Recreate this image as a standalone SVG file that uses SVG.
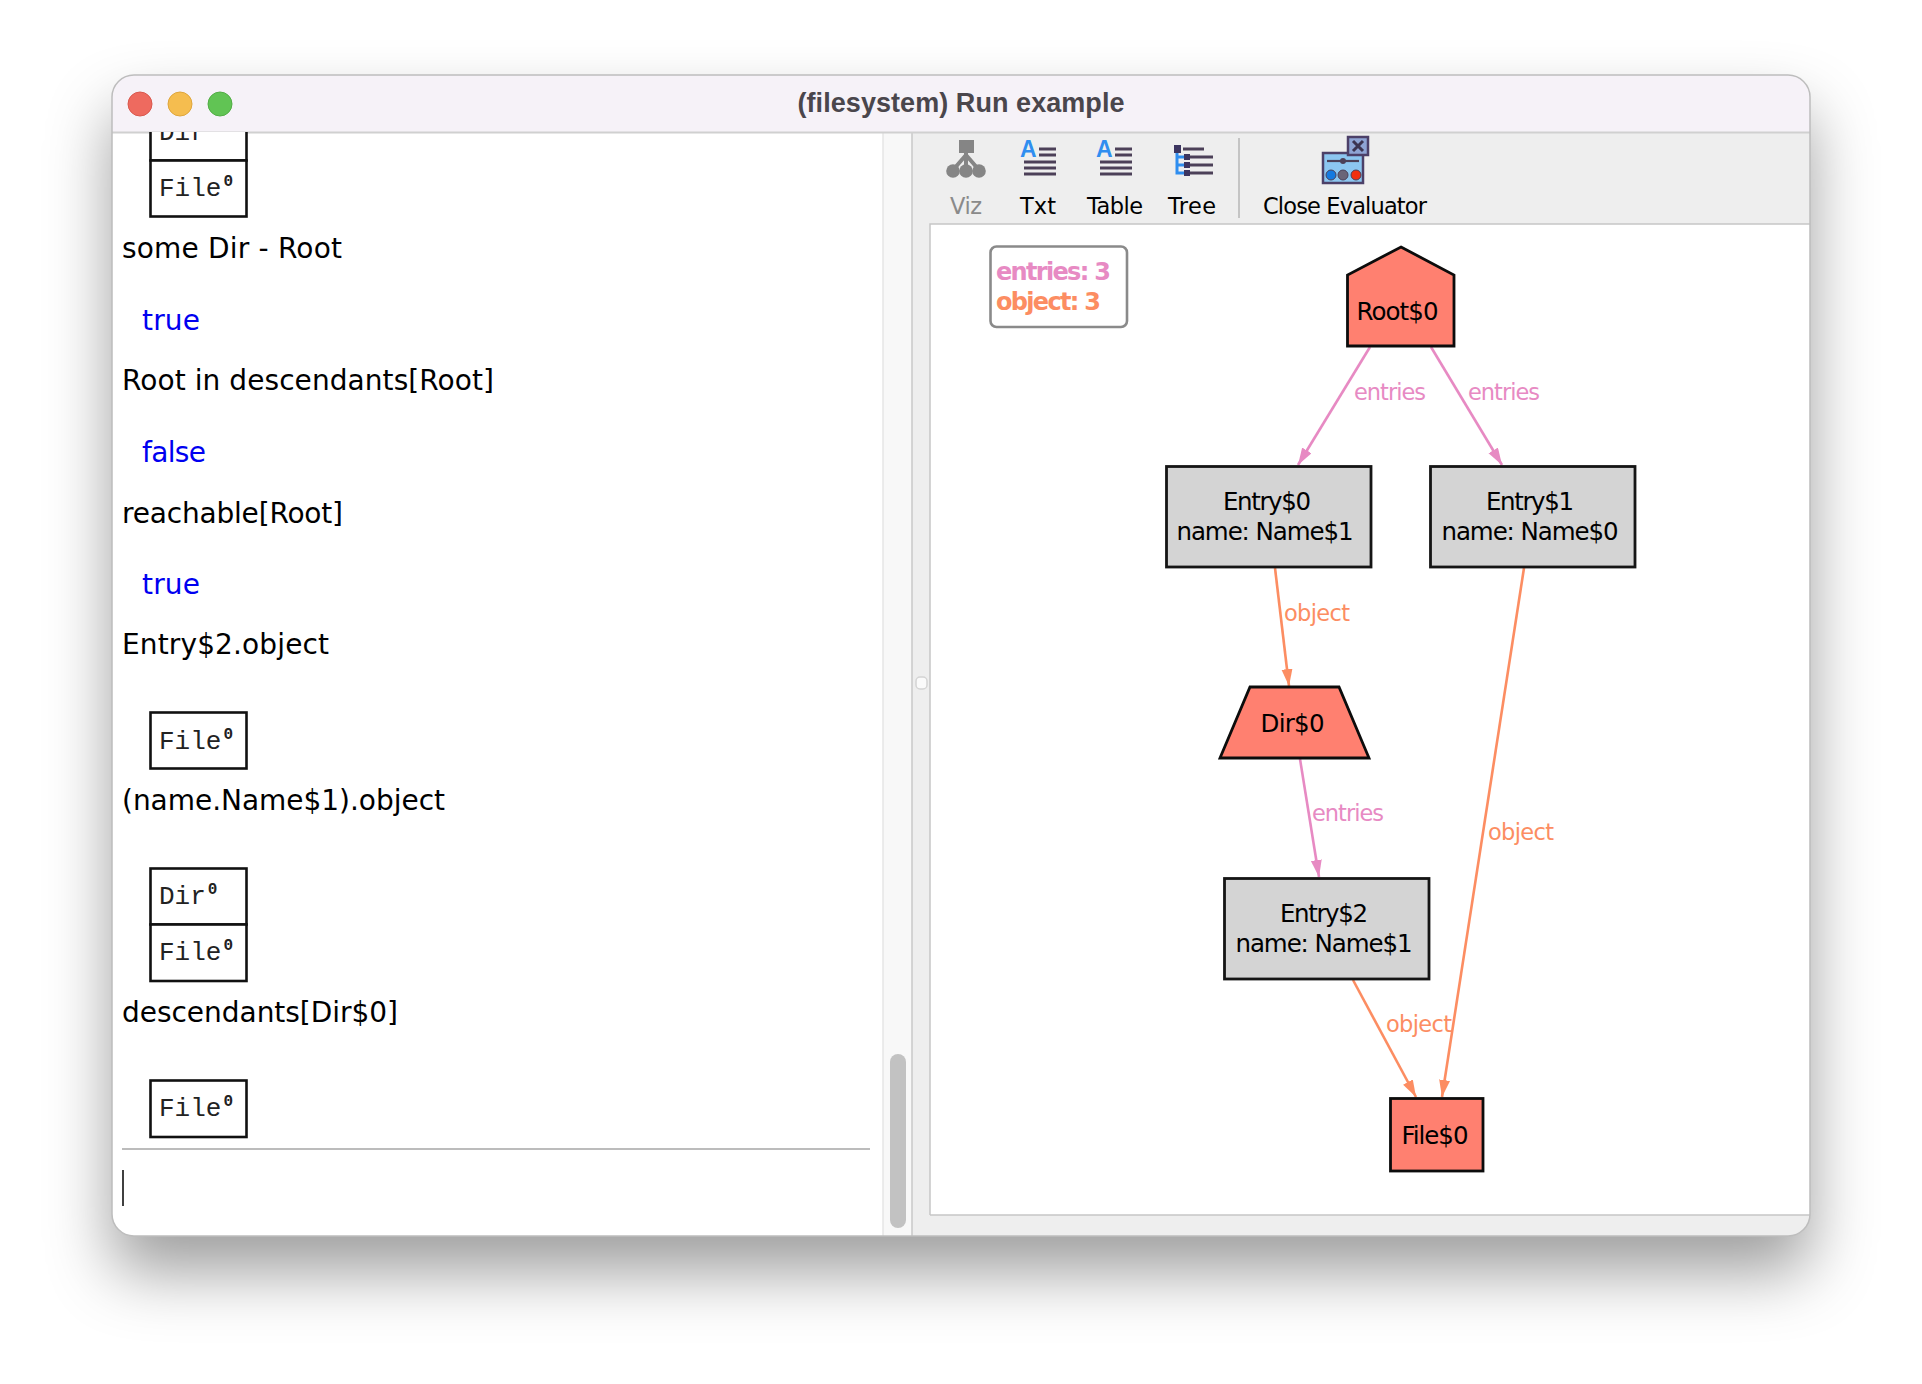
<svg xmlns="http://www.w3.org/2000/svg" width="1922" height="1384" viewBox="0 0 1922 1384">
<style>
text{font-family:"DejaVu Sans","Liberation Sans",sans-serif;fill:#000}
.ev{font-size:28px}
.res{font-size:28px;fill:#0000f0}
.mono{font-family:"Liberation Mono",monospace;font-size:26px;fill:#222}
.sup{font-size:16px;font-weight:bold}
.box{fill:#fff;stroke:#111;stroke-width:2.6}
.tb{font-size:22.5px}
.lbl{font-size:22.5px}
.en{fill:#e78ac3}
.ob{fill:#fc8d62}
.node{font-size:24.5px;text-anchor:middle}
.gray{fill:#d4d4d4;stroke:#151515;stroke-width:2.8}
.sal{fill:#ff8070;stroke:#0c0c0c;stroke-width:2.8}
.le{fill:none;stroke:#e78ac3;stroke-width:2.6}
.lo{fill:none;stroke:#fc8d62;stroke-width:2.6}
.ic{stroke:#4c4058;stroke-width:3;fill:none}
</style>
<defs>
<filter id="sh" x="-15%" y="-15%" width="130%" height="135%"><feDropShadow dx="0" dy="36" stdDeviation="32" flood-color="#000" flood-opacity="0.38"/></filter>
<marker id="ae" markerUnits="userSpaceOnUse" markerWidth="20" markerHeight="13" refX="17" refY="5.5" orient="auto"><path d="M0 0L17 5.5L0 11Z" fill="#e78ac3"/></marker>
<marker id="ao" markerUnits="userSpaceOnUse" markerWidth="20" markerHeight="13" refX="17" refY="5.5" orient="auto"><path d="M0 0L17 5.5L0 11Z" fill="#fc8d62"/></marker>
<clipPath id="win"><rect x="112" y="75" width="1698" height="1161" rx="22"/></clipPath>
<clipPath id="left"><rect x="112" y="132" width="771" height="1104"/></clipPath>
</defs>
<rect width="1922" height="1384" fill="#fff"/>
<rect id="window-shadow" x="112" y="75" width="1698" height="1161" rx="22" fill="#fff" filter="url(#sh)"/>
<g clip-path="url(#win)">
<rect x="112" y="75" width="1698" height="1161" fill="#fff"/>
<rect x="883" y="132" width="29" height="1104" fill="#f8f8f8"/>
<rect x="912" y="132" width="898" height="1104" fill="#eeeeee"/>
<rect x="930" y="224" width="880" height="991" fill="#fff"/>
<path d="M930 1215V224H1810M930 1215H1810" fill="none" stroke="#c6c6c6" stroke-width="1.5"/>
<path d="M883 132V1236" stroke="#e6e6e6" stroke-width="1.5"/>
<path d="M912 132V1236" stroke="#c8c8c8" stroke-width="1.5"/>
<rect x="916" y="677" width="11" height="12" rx="4" fill="#fafafa" stroke="#d4d4d4" stroke-width="1.5"/>
<rect x="890" y="1054" width="16" height="174" rx="8" fill="#c2c2c2"/>
<rect x="112" y="75" width="1698" height="57" fill="#f6f2f8"/>
<path d="M112 132.5H1810" stroke="#d0d0d0" stroke-width="2"/>
</g>
<rect x="112" y="75" width="1698" height="1161" rx="22" fill="none" stroke="#bdbdbd" stroke-width="1.5"/>
<g id="traffic-lights">
<ellipse cx="140" cy="104" rx="12" ry="12" fill="#ee6a5f" stroke="#d9584e"/>
<ellipse cx="180" cy="104" rx="12" ry="12" fill="#f5bd4f" stroke="#dfa63c"/>
<ellipse cx="220" cy="104" rx="12" ry="12" fill="#61c454" stroke="#52ad46"/>
</g>
<text id="title" x="961" y="112" text-anchor="middle" font-weight="bold" style="font-family:'Liberation Sans',sans-serif;font-size:27px;fill:#4a464c" textLength="327">(filesystem) Run example</text>

<g id="evaluator-log" clip-path="url(#left)">
<rect class="box" x="150.5" y="115" width="96" height="45.5"/>
<text class="mono" x="159" y="140">Dir</text>
<rect class="box" x="150.5" y="160.500" width="96" height="56"/>
<text class="mono" x="159" y="196">File<tspan class="sup" dx="2" dy="-10">0</tspan></text>
<text class="ev" x="122" y="258" textLength="220">some Dir - Root</text>
<text class="res" x="142" y="330" textLength="58">true</text>
<text class="ev" x="122" y="390" textLength="372">Root in descendants[Root]</text>
<text class="res" x="142" y="462" textLength="64">false</text>
<text class="ev" x="122" y="523" textLength="221">reachable[Root]</text>
<text class="res" x="142" y="594" textLength="58">true</text>
<text class="ev" x="122" y="654" textLength="207">Entry$2.object</text>
<rect class="box" x="150.5" y="712.500" width="96" height="56"/>
<text class="mono" x="159" y="749">File<tspan class="sup" dx="2" dy="-10">0</tspan></text>
<text class="ev" x="122" y="810" textLength="323">(name.Name$1).object</text>
<rect class="box" x="150.5" y="868.500" width="96" height="56"/>
<text class="mono" x="159" y="904">Dir<tspan class="sup" dx="2" dy="-10">0</tspan></text>
<rect class="box" x="150.5" y="924.500" width="96" height="56.500"/>
<text class="mono" x="159" y="960">File<tspan class="sup" dx="2" dy="-10">0</tspan></text>
<text class="ev" x="122" y="1022" textLength="276">descendants[Dir$0]</text>
<rect class="box" x="150.5" y="1080.500" width="96" height="56.500"/>
<text class="mono" x="159" y="1116">File<tspan class="sup" dx="2" dy="-10">0</tspan></text>
<path d="M122 1149H870" stroke="#bcbcbc" stroke-width="2"/>
<path d="M123 1170V1206" stroke="#000" stroke-width="1.5"/>
</g>

<g id="toolbar">
<g id="btn-viz">
<rect x="959" y="140" width="15" height="13" fill="#858585"/>
<path d="M966 152V170M966 155L953 170M966 155L979 170" stroke="#858585" stroke-width="4" fill="none"/>
<circle cx="953" cy="171" r="6.800" fill="#858585"/><circle cx="966" cy="171" r="6.800" fill="#858585"/><circle cx="979" cy="171" r="6.800" fill="#858585"/>
<text class="tb" x="950" y="214" style="fill:#8a8a8a" textLength="32">Viz</text>
</g>
<g id="btn-txt">
<text x="1020" y="157" font-weight="bold" style="font-size:23px;fill:#2f8ef0;font-family:'Liberation Sans',sans-serif">A</text>
<path class="ic" d="M1039 149H1056M1039 155H1056M1024 162H1056M1024 168H1056M1024 174H1056"/>
<text class="tb" x="1020" y="214" textLength="36">Txt</text>
</g>
<g id="btn-table">
<text x="1096" y="157" font-weight="bold" style="font-size:23px;fill:#2f8ef0;font-family:'Liberation Sans',sans-serif">A</text>
<path class="ic" d="M1115 149H1132M1115 155H1132M1100 162H1132M1100 168H1132M1100 174H1132"/>
<text class="tb" x="1087" y="214" textLength="56">Table</text>
</g>
<g id="btn-tree">
<path d="M1177 150V173H1187M1177 157H1187M1177 165H1187" stroke="#2f8ef0" stroke-width="3" fill="none"/>
<path class="ic" d="M1183 149H1204M1190 157H1213M1190 165H1213M1190 173H1213"/>
<rect x="1174" y="145" width="7" height="8" fill="#3c3560"/><rect x="1184" y="154" width="6" height="6" fill="#3c3560"/><rect x="1184" y="162" width="6" height="6" fill="#3c3560"/><rect x="1184" y="170" width="6" height="6" fill="#3c3560"/>
<text class="tb" x="1168" y="214" textLength="48">Tree</text>
</g>
<path d="M1239 138V218" stroke="#c4c4c4" stroke-width="2"/>
<g id="btn-close">
<rect x="1323" y="153" width="40" height="30" fill="#8cc6f0" stroke="#4c4068" stroke-width="2.500"/>
<path d="M1327 161H1359" stroke="#4c4058" stroke-width="2.200"/>
<circle cx="1343" cy="161" r="3" fill="#4c4058"/>
<circle cx="1331" cy="175" r="5" fill="#1479e0" stroke="#4c4058"/><circle cx="1343" cy="175" r="5" fill="#6a6478" stroke="#4c4058"/><circle cx="1356" cy="175" r="5" fill="#f03010" stroke="#4c4058"/>
<rect x="1348" y="137" width="20" height="18" fill="#8ea4d4" stroke="#4c4068" stroke-width="2.500"/>
<path d="M1353 141L1363 151M1363 141L1353 151" stroke="#3c3450" stroke-width="3"/>
<text class="tb" x="1263" y="214" textLength="164">Close Evaluator</text>
</g>
</g>

<g id="legend">
<rect x="990.500" y="246.500" width="136.500" height="80.500" rx="6" fill="#fff" stroke="#8a8a8a" stroke-width="2.600"/>
<text x="996" y="280" font-weight="bold" style="font-size:24px;fill:#e78ac3" textLength="115">entries: 3</text>
<text x="996" y="310" font-weight="bold" style="font-size:24px;fill:#fc8d62" textLength="105">object: 3</text>
</g>

<g id="connectors">
<line class="le" x1="1370" y1="347" x2="1298" y2="465" marker-end="url(#ae)"/>
<line class="le" x1="1431" y1="347" x2="1502" y2="465" marker-end="url(#ae)"/>
<line class="lo" x1="1275" y1="568" x2="1289" y2="686" marker-end="url(#ao)"/>
<line class="lo" x1="1524" y1="568" x2="1442" y2="1097" marker-end="url(#ao)"/>
<line class="le" x1="1300" y1="759" x2="1319" y2="877" marker-end="url(#ae)"/>
<line class="lo" x1="1353" y1="980" x2="1416" y2="1097" marker-end="url(#ao)"/>
<text class="lbl en" x="1354" y="400" textLength="72">entries</text>
<text class="lbl en" x="1468" y="400" textLength="72">entries</text>
<text class="lbl ob" x="1284" y="621" textLength="66">object</text>
<text class="lbl en" x="1312" y="821" textLength="72">entries</text>
<text class="lbl ob" x="1488" y="840" textLength="66">object</text>
<text class="lbl ob" x="1386" y="1032" textLength="66">object</text>
</g>

<g id="node-root">
<polygon class="sal" points="1401,247 1454,275 1454,346 1347.500,346 1347.500,275"/>
<text class="node" x="1397.500" y="320" textLength="82">Root$0</text>
</g>
<g id="node-entry0">
<rect class="gray" x="1166.500" y="466.500" width="204.500" height="100.500"/>
<text class="node" x="1267" y="510" textLength="88">Entry$0</text>
<text class="node" x="1265" y="540" textLength="177">name: Name$1</text>
</g>
<g id="node-entry1">
<rect class="gray" x="1430.500" y="466.500" width="204.500" height="100.500"/>
<text class="node" x="1530" y="510" textLength="88">Entry$1</text>
<text class="node" x="1530" y="540" textLength="177">name: Name$0</text>
</g>
<g id="node-dir">
<polygon class="sal" points="1250,687 1339,687 1369,758 1220,758"/>
<text class="node" x="1292.500" y="732" textLength="64">Dir$0</text>
</g>
<g id="node-entry2">
<rect class="gray" x="1224.500" y="878.500" width="204.500" height="100.500"/>
<text class="node" x="1324" y="922" textLength="88">Entry$2</text>
<text class="node" x="1324" y="952" textLength="177">name: Name$1</text>
</g>
<g id="node-file">
<rect class="sal" x="1390.500" y="1098.500" width="92.500" height="72.500"/>
<text class="node" x="1435" y="1144" textLength="67">File$0</text>
</g>
</svg>
